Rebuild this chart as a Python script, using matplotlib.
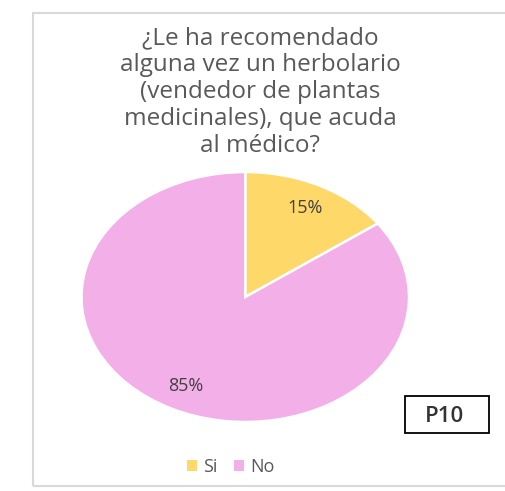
import matplotlib
matplotlib.use("Agg")
import matplotlib.pyplot as plt
from matplotlib.patches import Rectangle, Patch

categories = ["Si", "No"]
values = [15, 85]
colors = ["#FFD86A", "#F3AFE8"]
title = "¿Le ha recomendado\nalguna vez un herbolario\n(vendedor de plantas\nmedicinales), que acuda\nal médico?"
tag = "P10"

W, H = 506, 491
fig = plt.figure(figsize=(W / 100, H / 100), dpi=100)
plt.rcParams['font.family'] = ['Open Sans', 'DejaVu Sans']

def fx(px):
    return px / W

def fy(py):
    return 1 - py / H

# chart border
fig.patches.append(Rectangle((fx(33), fy(486)), fx(520) - fx(33), fy(13) - fy(486),
                             transform=fig.transFigure, fill=False,
                             edgecolor="#D9D9D9", linewidth=1.5))

# pie axes (elliptical, as in reference)
left, right, top, bottom = 81.5, 409, 172, 422
ax = fig.add_axes([fx(left), fy(bottom), fx(right) - fx(left), fy(top) - fy(bottom)])
wedges, texts, autotexts = ax.pie(values, colors=colors, startangle=90, counterclock=False,
                                  autopct=lambda p: f"{p:.0f}%", pctdistance=0.8,
                                  wedgeprops=dict(edgecolor="white", linewidth=1.8),
                                  textprops=dict(color="#404040", fontsize=13))
ax.set_aspect('auto')
ax.set_xlim(-1, 1)
ax.set_ylim(-1, 1)
ax.axis('off')

fig.text(fx(260), fy(92), title, ha='center', va='center', fontsize=17.5,
         color="#595959", linespacing=1.17)

# tag box
fig.patches.append(Rectangle((fx(404.5), fy(433)), fx(489) - fx(404.5), fy(396) - fy(433),
                             transform=fig.transFigure, fill=True, facecolor="white",
                             edgecolor="black", linewidth=1.3))
fig.text(fx(445), fy(416), tag, ha='center', va='center', fontsize=16,
         color="#333333", fontweight='semibold')

handles = [Patch(facecolor=c, edgecolor='none') for c in colors]
fig.legend(handles, categories, loc='center', bbox_to_anchor=(fx(231), fy(467)),
           ncol=2, frameon=False, fontsize=13, handlelength=0.55, handleheight=0.55,
           handletextpad=0.35, columnspacing=0.9, labelcolor="#595959")

fig.savefig("out.png", dpi=100, facecolor="white")
